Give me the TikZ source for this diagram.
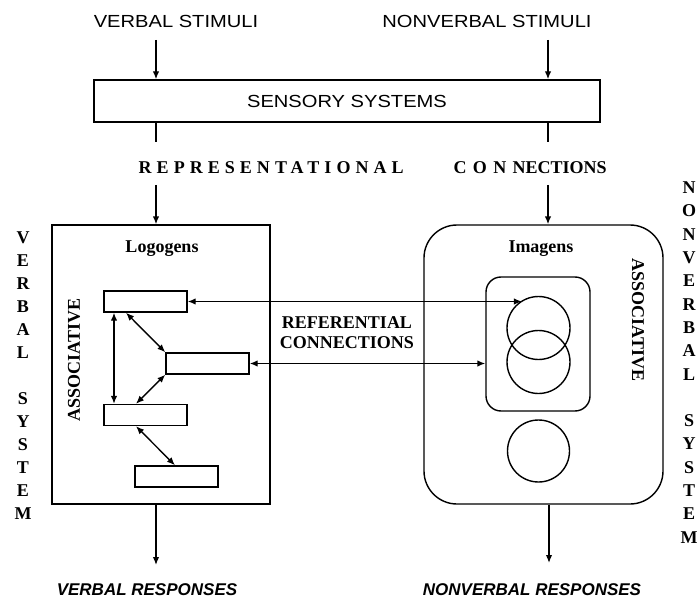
\documentclass[tikz,border=0pt]{standalone}
\usepackage{fontspec}
\setmainfont{Liberation Serif}
\setsansfont{Liberation Sans}
\newfontfamily\stimfont[FakeStretch=1.15]{Liberation Sans}
\usetikzlibrary{arrows.meta}
\begin{document}
\begin{tikzpicture}[x=1pt,y=-1pt,
  line width=1.4pt,
  arr/.style={-{Latex[length=8pt,width=6.5pt]}},
  darr/.style={{Latex[length=8pt,width=6.5pt]}-{Latex[length=8pt,width=6.5pt]}},
  box/.style={draw, line width=1.4pt, inner sep=0pt},
  stim/.style={font=\stimfont\fontsize{17.5}{20}\selectfont, inner sep=0pt},
  boldlbl/.style={font=\bfseries\fontsize{18}{20}\selectfont, inner sep=0pt},
  resp/.style={font=\sffamily\bfseries\itshape\fontsize{17}{20}\selectfont, inner sep=0pt},
  col/.style={align=center, inner sep=0pt},
]
\fill[white] (0,0) rectangle (699,599);
\useasboundingbox (0,0) rectangle (699,599);

% top labels
\node[stim] (vs) at (176,21) {VERBAL STIMULI};
\node[stim] (nvs) at (487,21) {NONVERBAL STIMULI};

% sensory systems
\node[box, stim, minimum width=506pt, minimum height=42pt] (sens) at (347,101) {SENSORY SYSTEMS};

\coordinate (vin) at (156,40);
\coordinate (nin) at (548,40);
\draw[arr] (vin) -- (vin |- sens.north);
\draw[arr] (nin) -- (nin |- sens.north);

% representational connections
\node[boldlbl, anchor=west] (rep) at (138,168) {{\addfontfeature{LetterSpace=28}REPRESENTATIONAL}};
\node[boldlbl, anchor=west] (con) at (453,168) {{\addfontfeature{LetterSpace=35}CONN}ECTIONS};

\coordinate (rl1) at (156,142);
\coordinate (rl2) at (156,185);
\coordinate (rr1) at (548,142);
\coordinate (rr2) at (548,185);

% boxes
\node[box, minimum width=218pt, minimum height=279pt] (lbox) at (161,364.5) {};
\node[box, rounded corners=33pt, minimum width=239pt, minimum height=279pt] (rbox) at (543.5,364.5) {};

\draw (rl1 |- sens.south) -- (rl1);
\draw[arr] (rl2) -- (rl2 |- lbox.north);
\draw (rr1 |- sens.south) -- (rr1);
\draw[arr] (rr2) -- (rr2 |- rbox.north);

\node[boldlbl] (logo) at (162,249) {Logogens};
\node[boldlbl] (imag) at (541,249) {Imagens};
\node[boldlbl, rotate=90] (lassoc) at (74,360) {ASSOCIATIVE};
\node[boldlbl, rotate=-90] (rassoc) at (638,320) {ASSOCIATIVE};

% logogens
\node[box, minimum width=83pt, minimum height=21pt] (r1) at (145.5,301.5) {};
\node[box, minimum width=83pt, minimum height=21pt] (r2) at (207.5,363.5) {};
\node[box, minimum width=83pt, minimum height=21pt] (r3) at (145.5,415) {};
\node[box, minimum width=83pt, minimum height=21pt] (r4) at (176.5,476.5) {};

\draw[darr] ([xshift=-31.5pt]r1.south) -- ([xshift=-31.5pt]r3.north);
\draw[darr] ([xshift=-19.5pt]r1.south) -- (r2.north west);
\draw[darr] (r2.south west) -- ([xshift=-9.5pt]r3.north);
\draw[darr] ([xshift=-9.5pt]r3.south) -- ([xshift=-1.5pt]r4.north);

% imagens
\node[box, rounded corners=15pt, minimum width=104pt, minimum height=134pt] (inner) at (538,344) {};
\node[box, circle, minimum size=63pt] (c1) at (538.5,328) {};
\node[box, circle, minimum size=63pt] (c2) at (538.5,362) {};
\node[box, circle, minimum size=62pt] (c3) at (538.5,451) {};

% referential connections
\node[boldlbl, align=center] (ref) at (347,333) {REFERENTIAL\\CONNECTIONS};
\draw[darr] (r1.east) -- (r1.east -| c1.121);
\draw[darr] (r2.east) -- (r2.east -| inner.west);

% system labels
\node[col, font=\bfseries\fontsize{18}{23}\selectfont] (vsys) at (23,376) {V\\E\\R\\B\\A\\L\\ \\S\\Y\\S\\T\\E\\M};
\node[col, font=\bfseries\fontsize{18}{23.3}\selectfont] (nvsys) at (689,362.5) {N\\O\\N\\V\\E\\R\\B\\A\\L\\ \\S\\Y\\S\\T\\E\\M};

% responses
\coordinate (vo) at (156,565);
\coordinate (no) at (549,563);
\draw[arr] (vo |- lbox.south) -- (vo);
\draw[arr] (no |- rbox.south) -- (no);
\node[resp] (vr) at (147,590) {VERBAL RESPONSES};
\node[resp] (nvr) at (532,590) {NONVERBAL RESPONSES};
\end{tikzpicture}
\end{document}
